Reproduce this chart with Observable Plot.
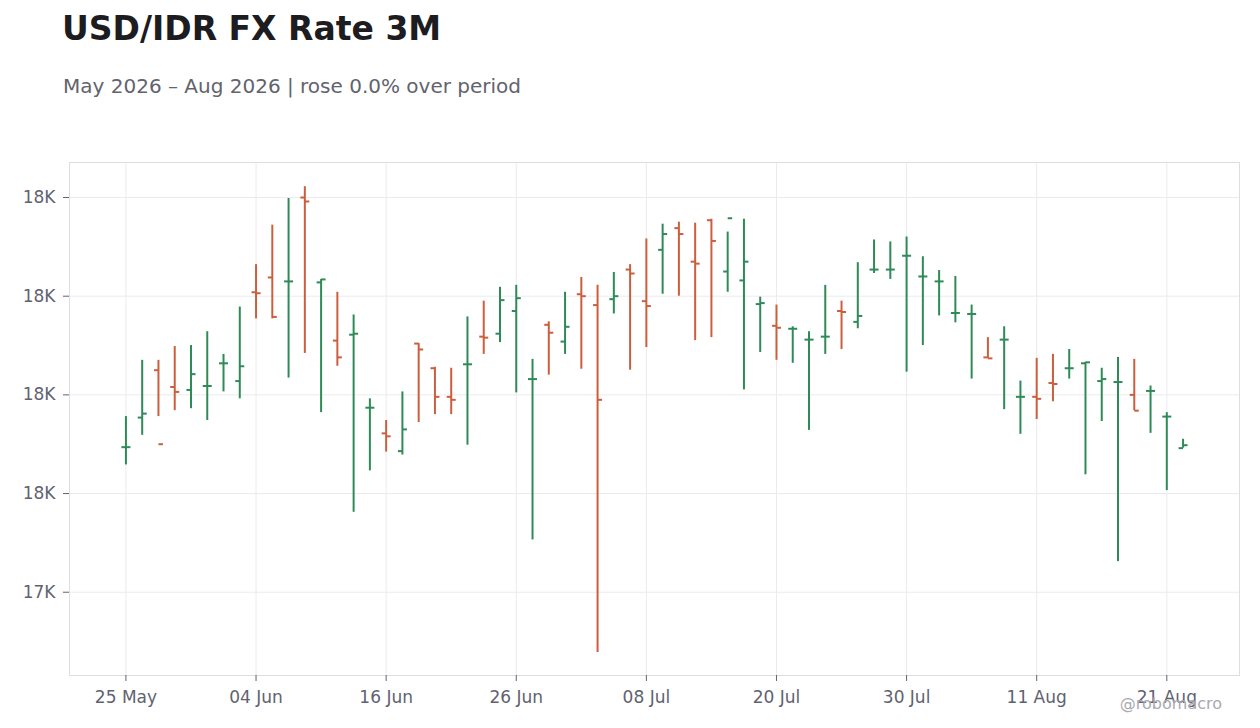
<!DOCTYPE html>
<html>
<head>
<meta charset="utf-8">
<script src="https://cdn.jsdelivr.net/npm/d3@7"></script>
<script src="https://cdn.jsdelivr.net/npm/@observablehq/plot@0.6"></script>
<style>
  html, body { margin: 0; padding: 0; background: #ffffff; }
  #wrap { position: relative; width: 1260px; height: 728px; overflow: hidden; font-family: "DejaVu Sans", sans-serif; }
  #title { position: absolute; left: 62px; top: 12px; font-size: 33px; line-height: 1; font-weight: bold; color: #1c1c21; white-space: nowrap; }
  #subtitle { position: absolute; left: 63px; top: 76px; font-size: 20px; line-height: 1; color: #62636d; white-space: nowrap; }
  #chart { position: absolute; left: 0; top: 140px; }
  #credit { position: absolute; right: 38px; top: 696px; font-size: 16px; line-height: 1; color: #a9a9b0; white-space: nowrap; }
</style>
</head>
<body>
<div id="wrap">
  <div id="title">USD/IDR FX Rate 3M</div>
  <div id="subtitle">May 2026 – Aug 2026 | rose 0.0% over period</div>
  <div id="chart"></div>
  <div id="credit">@robomacro</div>
</div>
<script>
const dates = [
  "2026-05-25","2026-05-26","2026-05-27","2026-05-28","2026-05-29",
  "2026-06-01","2026-06-02","2026-06-03","2026-06-04","2026-06-05",
  "2026-06-08","2026-06-09","2026-06-10","2026-06-11","2026-06-12",
  "2026-06-15","2026-06-16","2026-06-17","2026-06-18","2026-06-19",
  "2026-06-22","2026-06-23","2026-06-24","2026-06-25","2026-06-26",
  "2026-06-29","2026-06-30","2026-07-01","2026-07-02","2026-07-03",
  "2026-07-06","2026-07-07","2026-07-08","2026-07-09","2026-07-10",
  "2026-07-13","2026-07-14","2026-07-15","2026-07-16","2026-07-17",
  "2026-07-20","2026-07-21","2026-07-22","2026-07-23","2026-07-24",
  "2026-07-27","2026-07-28","2026-07-29","2026-07-30","2026-07-31",
  "2026-08-03","2026-08-04","2026-08-05","2026-08-06","2026-08-07",
  "2026-08-10","2026-08-11","2026-08-12","2026-08-13","2026-08-14",
  "2026-08-17","2026-08-18","2026-08-19","2026-08-20","2026-08-21",
  "2026-08-24"
];
const opens = [
  17547,17577,17625,17608,17605,17609,17632,17614,17704,17719,
  17715,17800,17714,17655,17661,17587,17561,17543,17652,17627,
  17598,17631,17659,17662,17685,17616,17671,17654,17702,17691,
  17697,17727,17695,17747,17769,17735,17777,17725,17716,17692,
  17670,17667,17656,17659,17685,17674,17727,17727,17741,17720,
  17715,17683,17682,17638,17656,17598,17598,17612,17627,17632,
  17614,17613,17600,17604,17578,17546
];
const highs = [
  17578,17635,17635,17649,17650,17664,17641,17689,17732,17772,
  17799,17811,17717,17704,17681,17596,17574,17603,17652,17628,
  17627,17679,17695,17709,17711,17636,17674,17704,17719,17711,
  17724,17732,17758,17773,17775,17774,17778,17765,17778,17699,
  17691,17669,17664,17711,17695,17734,17757,17755,17760,17740,
  17726,17720,17691,17658,17669,17614,17637,17641,17646,17633,
  17627,17638,17636,17609,17582,17555
];
const lows = [
  17529,17559,17578,17584,17586,17574,17603,17596,17677,17677,
  17617,17642,17582,17629,17481,17523,17542,17539,17572,17580,
  17580,17549,17641,17653,17602,17453,17620,17641,17626,17339,
  17682,17625,17648,17702,17700,17655,17658,17704,17605,17643,
  17635,17632,17564,17641,17646,17667,17723,17717,17623,17650,
  17680,17673,17616,17637,17585,17560,17575,17593,17616,17519,
  17573,17431,17584,17561,17503,17546
];
const closes = [
  17547,17581,17550,17603,17621,17609,17632,17629,17703,17679,
  17715,17796,17717,17638,17662,17587,17558,17565,17646,17598,
  17595,17631,17658,17696,17698,17616,17663,17669,17700,17595,
  17700,17723,17690,17763,17763,17733,17756,17779,17735,17693,
  17668,17667,17656,17659,17684,17680,17727,17727,17741,17720,
  17715,17683,17682,17637,17656,17598,17596,17611,17627,17633,
  17616,17613,17584,17604,17578,17549
];
const xTickDates = ["2026-05-25","2026-06-04","2026-06-16","2026-06-26","2026-07-08","2026-07-20","2026-07-30","2026-08-11","2026-08-21"];
const yTickValues = [17400, 17500, 17600, 17700, 17800];

const upColor = "#2e8b57";
const downColor = "#cc5e3e";

const rows = dates.map((d, i) => ({date: d, open: opens[i], high: highs[i], low: lows[i], close: closes[i]}));
const colorOf = d => d.close >= d.open ? upColor : downColor;

const leftTick = {draw(ctx) { ctx.moveTo(-4.5, 0); ctx.lineTo(0, 0); }};
const rightTick = {draw(ctx) { ctx.moveTo(0, 0); ctx.lineTo(4.5, 0); }};

const parse = d3.utcParse("%Y-%m-%d");
const fmtDate = d3.utcFormat("%d %b");
const fmtY = v => d3.format(".2s")(v).replace("k", "K");

const chart = Plot.plot({
  width: 1260,
  height: 575,
  marginLeft: 69,
  marginRight: 21,
  marginTop: 22,
  marginBottom: 40,
  style: {fontFamily: "DejaVu Sans, sans-serif", fontSize: "17px", color: "#5f6270", background: "#ffffff", overflow: "visible"},
  x: {type: "point", domain: dates, padding: 3.47, round: false},
  y: {domain: [17315.6, 17835.5]},
  color: {type: "identity"},
  marks: [
    Plot.gridY({ticks: yTickValues, stroke: "#ebebee", strokeOpacity: 1}),
    Plot.gridX({ticks: xTickDates, stroke: "#ebebee", strokeOpacity: 1}),
    Plot.frame({stroke: "#dedee2"}),
    Plot.axisY({ticks: yTickValues, tickSize: 6, tickPadding: 8, tickFormat: fmtY, label: null}),
    Plot.axisX({ticks: xTickDates, tickSize: 6, tickPadding: 9.5, tickFormat: d => fmtDate(parse(d)), label: null}),
    Plot.ruleX(rows, {x: "date", y1: "low", y2: "high", stroke: colorOf, strokeWidth: 2}),
    Plot.dot(rows, {x: "date", y: "open", symbol: leftTick, stroke: colorOf, strokeWidth: 2, fill: "none"}),
    Plot.dot(rows, {x: "date", y: "close", symbol: rightTick, stroke: colorOf, strokeWidth: 2, fill: "none"})
  ]
});
document.getElementById("chart").appendChild(chart);
</script>
</body>
</html>
